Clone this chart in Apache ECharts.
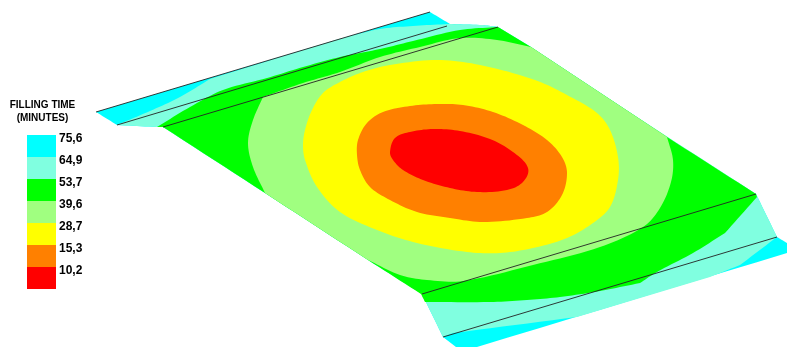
<!DOCTYPE html>
<html>
<head>
<meta charset="utf-8">
<style>
  html, body { margin: 0; padding: 0; background: #fff; }
  #main { width: 787px; height: 347px; }
</style>
<script src="https://cdn.jsdelivr.net/npm/echarts@6/dist/echarts.min.js"></script>
</head>
<body>
<div id="main"></div>
<script>
// contour bands, outer band first
// a third value of 1 marks a sharp corner, the rest are on a curve
const bandCyan = [[96,112,1],[430,12,1],[450,24,1],[483,25,1],[498,27,1],[531,47,1],[667,137,1],[756,194,1],[777,237,1],[787,243,1],[787,253,1],[477,347,1],[456,347,1],[443,337,1],[422,294,1],[368,260,1],[265,193,1],[163,127,1],[157,127,1],[117,125,1]]
const bandAqua = [[117,125,1],[150,111],[180,97],[210,79,1],[335,40,1],[380,29],[413,26],[448,24,1],[483,25,1],[498,27,1],[756,194,1],[777,237,1],[740,265,1],[710,277,1],[577,317,1],[453,333,1],[443,337,1],[422,294,1],[163,127,1],[157,127,1]]
const bandGreen = [[157,127,1],[190,107],[223,90],[267,78],[303,67],[340,57],[380,49],[413,41],[460,30],[498,27,1],[531,47,1],[667,137,1],[756,194,1],[757,197,1],[725,233,1],[693,253],[657,272],[640,283,1],[600,291],[560,297],[527,300],[490,302],[425,302,1],[421,294,1],[368,260,1],[265,193,1],[163,127,1]]
const bandLight = [[263,97,1],[303,83],[340,72],[380,57],[420,47],[460,38],[497,40],[531,47,1],[667,137,1],[673,160],[671,182],[660,208],[643,227],[600,247],[533,265],[463,281],[427,280],[400,275],[368,260,1],[265,193,1],[253,167],[248,143],[253,120]]
const bandYellow = [[303,145],[305,130],[312,110],[323,93],[340,82],[363,72],[390,65],[437,60],[480,65],[535,80],[567,95],[597,113],[610,130],[618,157],[618,180],[610,207],[593,223],[567,238],[533,248],[500,253],[467,252],[417,243],[377,230],[340,212],[317,187],[305,160]]
const bandOrange = [[357,155],[358,140],[367,123],[383,112],[410,106],[437,104],[463,105],[493,112],[523,125],[547,140],[562,157],[567,173],[562,195],[547,212],[527,218],[483,222],[450,218],[417,212],[390,200],[370,187],[360,170]]
const bandRed = [[390,152],[395,138],[410,132],[433,129],[460,131],[490,139],[513,152],[528,168],[523,182],[507,190],[477,192],[450,188],[423,180],[403,170],[393,160]]

// the five black ribs across the part
const ribs = [
  [[96,112],[430,12]],
  [[117,125],[447,26]],
  [[163,127],[498,27]],
  [[422,294],[756,194]],
  [[443,337],[777,237]],
]

const legendValues = ['75,6', '64,9', '53,7', '39,6', '28,7', '15,3', '10,2']
const legendColors = ['#00FFFF', '#80FFE0', '#00FF00', '#A0FF80', '#FFFF00', '#FF8000', '#FF0000']

const bands = [
  { points: bandCyan, color: '#00FFFF' },
  { points: bandAqua, color: '#80FFE0' },
  { points: bandGreen, color: '#00FF00' },
  { points: bandLight, color: '#A0FF80' },
  { points: bandYellow, color: '#FFFF00' },
  { points: bandOrange, color: '#FF8000' },
  { points: bandRed, color: '#FF0000' },
]

// pixel outline through the band points, curved except at the marked corners
function outline(raw, api) {
  const n = raw.length
  const pts = raw.map(function (p) { return api.coord([p[0], p[1]]) })
  function tangent(i, len, fallback) {
    if (raw[i][2]) return fallback
    const a = pts[(i - 1 + n) % n]
    const b = pts[(i + 1) % n]
    const d = Math.hypot(b[0] - a[0], b[1] - a[1]) || 1
    return [(b[0] - a[0]) / d * len, (b[1] - a[1]) / d * len]
  }
  const out = []
  for (let i = 0; i < n; i++) {
    const j = (i + 1) % n
    const a = pts[i]
    const b = pts[j]
    const chord = [b[0] - a[0], b[1] - a[1]]
    const len = Math.hypot(chord[0], chord[1])
    const m1 = tangent(i, len, chord)
    const m2 = tangent(j, len, chord)
    for (let k = 0; k < 10; k++) {
      const t = k / 10
      const t2 = t * t
      const t3 = t2 * t
      const h1 = 2 * t3 - 3 * t2 + 1
      const h2 = t3 - 2 * t2 + t
      const h3 = -2 * t3 + 3 * t2
      const h4 = t3 - t2
      out.push([
        h1 * a[0] + h2 * m1[0] + h3 * b[0] + h4 * m2[0],
        h1 * a[1] + h2 * m1[1] + h3 * b[1] + h4 * m2[1],
      ])
    }
  }
  return out
}

const myChart = echarts.init(document.getElementById('main'), null, { renderer: 'canvas' })

const bandSeries = bands.map(function (band) {
  return {
    type: 'custom',
    xAxisIndex: 0,
    yAxisIndex: 0,
    clip: true,
    silent: true,
    data: [band.points[0].slice(0, 2)],
    renderItem: function (params, api) {
      return {
        type: 'polygon',
        shape: { points: outline(band.points, api) },
        style: { fill: band.color },
      }
    },
  }
})

const ribSeries = ribs.map(function (rib) {
  return {
    type: 'line',
    xAxisIndex: 0,
    yAxisIndex: 0,
    silent: true,
    showSymbol: false,
    z: 5,
    lineStyle: { color: '#222', width: 0.9 },
    data: rib,
  }
})

const option = {
  backgroundColor: '#fff',
  animation: false,
  title: {
    text: 'FILLING TIME\n(MINUTES)',
    left: 42.5,
    top: 99,
    padding: 0,
    textAlign: 'center',
    textStyle: {
      fontFamily: 'Liberation Sans',
      fontSize: 10,
      fontWeight: 'bold',
      lineHeight: 13,
      color: '#000',
    },
  },
  grid: [
    { left: 0, top: 0, width: 787, height: 347 },
    { left: 27, top: 135, width: 29, height: 154 },
  ],
  xAxis: [
    { type: 'value', gridIndex: 0, min: 0, max: 787, show: false },
    { type: 'value', gridIndex: 1, min: 0, max: 1, show: false },
  ],
  yAxis: [
    { type: 'value', gridIndex: 0, min: 0, max: 347, inverse: true, show: false },
    {
      type: 'category',
      gridIndex: 1,
      inverse: true,
      position: 'right',
      data: legendValues,
      axisLine: { show: false },
      axisTick: { show: false },
      splitLine: { show: false },
      axisLabel: {
        interval: 0,
        margin: 3,
        align: 'left',
        verticalAlign: 'bottom',
        lineHeight: 14,
        fontFamily: 'Liberation Sans',
        fontSize: 12,
        fontWeight: 'bold',
        color: '#000',
      },
    },
  ],
  series: bandSeries.concat(ribSeries, [
    {
      type: 'bar',
      xAxisIndex: 1,
      yAxisIndex: 1,
      silent: true,
      barWidth: '100%',
      data: legendValues.map(function (v, i) {
        return { value: 1, itemStyle: { color: legendColors[i] } }
      }),
    },
  ]),
}
myChart.setOption(option)
</script>
</body>
</html>
